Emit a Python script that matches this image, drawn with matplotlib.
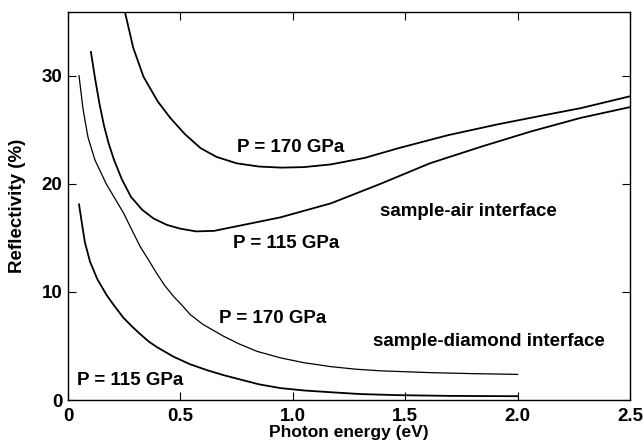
import matplotlib
matplotlib.use("Agg")
import matplotlib.pyplot as plt

# sample-air interface, P = 170 GPa
air170_e = [0.25, 0.29, 0.336, 0.40, 0.455, 0.52, 0.59, 0.66, 0.75, 0.85, 0.95, 1.05, 1.17,
            1.32, 1.47, 1.69, 1.91, 2.13, 2.28, 2.50]
air170_r = [36.2, 32.6, 29.9, 27.6, 26.1, 24.6, 23.3, 22.5, 21.9, 21.6, 21.5, 21.55, 21.8,
            22.4, 23.3, 24.5, 25.5, 26.4, 27.0, 28.1]

# sample-air interface, P = 115 GPa
air115_e = [0.102, 0.12, 0.14, 0.16, 0.18, 0.205, 0.24, 0.28, 0.33, 0.38, 0.44, 0.50, 0.57,
            0.65, 0.78, 0.945, 1.17, 1.39, 1.61, 1.84, 2.06, 2.28, 2.50]
air115_r = [32.2, 29.8, 27.4, 25.4, 23.8, 22.2, 20.4, 18.8, 17.6, 16.8, 16.2, 15.85, 15.6,
            15.65, 16.2, 16.9, 18.2, 20.0, 21.9, 23.45, 24.85, 26.1, 27.1]

# sample-diamond interface, P = 170 GPa
dia170_e = [0.049, 0.067, 0.089, 0.12, 0.17, 0.21, 0.247, 0.285, 0.321, 0.36, 0.395, 0.43,
            0.469, 0.51, 0.544, 0.60, 0.692, 0.76, 0.841, 0.945, 1.05, 1.168, 1.28, 1.39,
            1.613, 1.80, 2.0]
dia170_r = [30.0, 26.9, 24.3, 22.2, 20.0, 18.6, 17.3, 15.7, 14.2, 12.9, 11.7, 10.6,
            9.6, 8.7, 7.9, 7.0, 5.9, 5.2, 4.5, 3.9, 3.45, 3.09, 2.85, 2.7,
            2.53, 2.44, 2.37]

# sample-diamond interface, P = 115 GPa
dia115_e = [0.049, 0.06, 0.075, 0.098, 0.13, 0.172, 0.21, 0.247, 0.285, 0.321, 0.36, 0.395,
            0.47, 0.544, 0.62, 0.692, 0.766, 0.85, 0.945, 1.05, 1.168, 1.3, 1.465, 1.7, 2.0]
dia115_r = [18.1, 16.6, 14.6, 12.8, 11.2, 9.7, 8.6, 7.6, 6.8, 6.1, 5.4, 4.9,
            4.0, 3.3, 2.75, 2.3, 1.9, 1.45, 1.1, 0.88, 0.72, 0.55, 0.45, 0.38, 0.35]

x_ticks = [0, 0.5, 1.0, 1.5, 2.0, 2.5]
x_labels = ["0", "0.5", "1.0", "1.5", "2.0", "2.5"]
y_ticks = [0, 10, 20, 30]

plt.rcParams["font.family"] = ["Liberation Sans", "DejaVu Sans"]
plt.rcParams["font.weight"] = "bold"

fig = plt.figure(figsize=(6.44, 4.44), dpi=100)
ax = fig.add_axes([68 / 644, 44 / 444, 562 / 644, 388 / 444])

ax.plot(air170_e, air170_r, color="black", lw=1.3)
ax.plot(air115_e, air115_r, color="black", lw=1.3)
ax.plot(dia170_e, dia170_r, color="black", lw=0.9)
ax.plot(dia115_e, dia115_r, color="black", lw=1.3)

ax.set_xlim(0, 2.5)
ax.set_ylim(0, 35.9)
ax.set_xticks(x_ticks)
ax.set_xticklabels(x_labels)
ax.set_yticks(y_ticks)
ax.tick_params(direction="in", length=6, width=0.8, top=True, right=True, labelsize=13.5)
ax.tick_params(axis="x", pad=6)
ax.tick_params(axis="y", pad=4)
for s in ax.spines.values():
    s.set_linewidth(1.0)

# текстовые подписи кривых
txt = dict(fontsize=13.5, fontweight="bold", va="center", ha="left")
ax.text(0.75, 23.4, "P = 170 GPa", **txt)
ax.text(0.735, 14.5, "P = 115 GPa", **txt)
ax.text(1.39, 17.4, "sample-air interface", **txt)
ax.text(0.67, 7.5, "P = 170 GPa", **txt)
ax.text(1.355, 5.45, "sample-diamond interface", **txt)
ax.text(0.04, 1.85, "P = 115 GPa", **txt)

ax.set_xlabel("Photon energy (eV)", fontsize=12.5, fontweight="bold")
ax.xaxis.set_label_coords(0.5, -0.064)
ax.set_ylabel("Reflectivity (%)", fontsize=13.5, fontweight="bold")
ax.yaxis.set_label_coords(-0.075, 0.5)

fig.savefig("out.png", dpi=100)
